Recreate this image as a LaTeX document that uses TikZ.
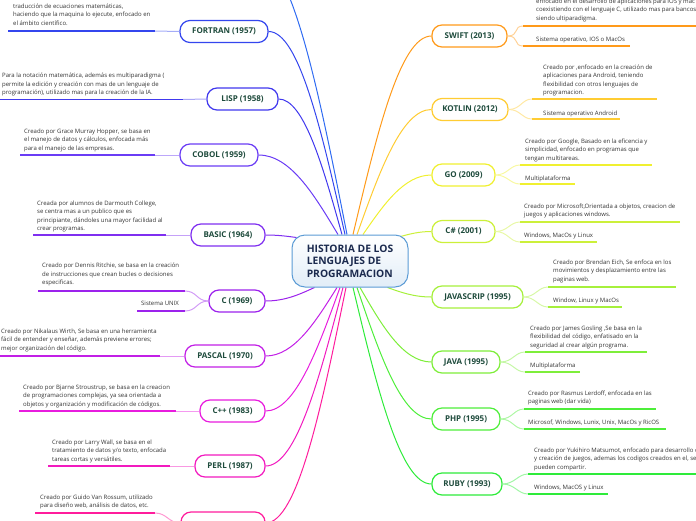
\documentclass[tikz,border=0pt]{standalone}
\usepackage{fontspec}
\setmainfont{Open Sans}
\usetikzlibrary{calc,backgrounds}
\definecolor{ctop}{HTML}{2F6BF2}
\definecolor{cfortran}{HTML}{3446EE}
\definecolor{clisp}{HTML}{4038EE}
\definecolor{ccobol}{HTML}{6A3CF5}
\definecolor{cbasic}{HTML}{7F2FF0}
\definecolor{cc}{HTML}{9C22EC}
\definecolor{cpascal}{HTML}{C21FE6}
\definecolor{ccpp}{HTML}{E81CDE}
\definecolor{cperl}{HTML}{F21ABF}
\definecolor{cpy}{HTML}{FF1C9C}
\definecolor{cswift}{HTML}{FF9A1A}
\definecolor{ckotlin}{HTML}{FFCC33}
\definecolor{cgo}{HTML}{F0F030}
\definecolor{ccs}{HTML}{CCF03A}
\definecolor{cjs}{HTML}{A6F03C}
\definecolor{cjava}{HTML}{7EEE3A}
\definecolor{cphp}{HTML}{4EEE3A}
\definecolor{cruby}{HTML}{2EEB3A}
\definecolor{ctrborder}{HTML}{5B9BD5}
\definecolor{ctrtxt}{HTML}{1B2A4E}
\definecolor{topictxt}{HTML}{1E4B3C}
\definecolor{desctxt}{HTML}{333333}
\newcommand\descfont{\fontsize{6.0}{8.6}\selectfont}
\newcommand\dlines[1]{\vtop{\baselineskip=8.6pt\halign{##\hfil\cr#1\crcr}}}
\newcommand\branch[3]{\draw[branchline=#1] let \p1=(#2), \p2=(#3) in (\p1) .. controls ({\x1+0.3*(\x2-\x1)},{\y1+0.5*(\y2-\y1)}) and ({\x2-0.4*(\x2-\x1)},{\y2}) .. (\p2);}
\tikzset{
  topic/.style={draw=#1, line width=1.2pt, rounded corners=10pt, minimum height=22pt, fill=white, text=topictxt, font=\fontsize{8}{9.6}\selectfont\bfseries, inner sep=0pt},
  ul/.style={draw=#1, line width=1.4pt},
  twig/.style={draw=#1!45!white, line width=1pt},
  branchline/.style={draw=#1, line width=1pt},
  desc/.style={font=\descfont, text=desctxt, inner sep=0pt, anchor=base west},
}
\begin{document}
\begin{tikzpicture}[x=1pt,y=-1pt]
\useasboundingbox (0,0) rectangle (696,520);
\clip (0,0) rectangle (696,520);
% center
\node[draw=ctrborder, line width=1pt, rounded corners=13pt, top color=white, bottom color=ctrborder!18!white, minimum width=116pt, minimum height=52pt, align=left, text=ctrtxt, font=\fontsize{10.3}{12.6}\selectfont\bfseries] (ctr) at (350,261) {HISTORIA DE LOS\\LENGUAJES DE\\PROGRAMACION};
% topics left
\node[topic=cfortran, minimum width=88pt] (fortran) at (224,31.5) {FORTRAN (1957)};
\node[topic=clisp, minimum width=71pt] (lisp) at (242.5,99) {LISP (1958)};
\node[topic=ccobol, minimum width=78pt] (cobol) at (219,155) {COBOL (1959)};
\node[topic=cbasic, minimum width=74pt] (basic) at (228,235) {BASIC (1964)};
\node[topic=cc, minimum width=56pt] (c) at (237,301) {C (1969)};
\node[topic=cpascal, minimum width=80pt] (pascal) at (225,356) {PASCAL (1970)};
\node[topic=ccpp, minimum width=65pt] (cpp) at (232.5,411) {C++ (1983)};
\node[topic=cperl, minimum width=70pt] (perl) at (230,466) {PERL (1987)};
\node[topic=cpy, minimum width=84pt] (py) at (223,523) {};
\coordinate (topn) at (255,-45);
% topics right
\node[topic=cswift, minimum width=75pt] (swift) at (469.5,36) {SWIFT (2013)};
\node[topic=ckotlin, minimum width=76pt] (kotlin) at (470,109.5) {KOTLIN (2012)};
\node[topic=cgo, minimum width=63pt] (go) at (463.5,175) {GO (2009)};
\node[topic=ccs, minimum width=63pt] (cs) at (463.5,231.5) {C\# (2001)};
\node[topic=cjs, minimum width=91pt] (js) at (477.5,297) {JAVASCRIP (1995)};
\node[topic=cjava, minimum width=68pt] (java) at (466,362) {JAVA (1995)};
\node[topic=cphp, minimum width=68pt] (php) at (466,419) {PHP (1995)};
\node[topic=cruby, minimum width=70pt] (ruby) at (467,484) {RUBY (1993)};
% start points on the center node
\coordinate (s-top) at ($(ctr.north)+(-3,0)$);
\coordinate (s-fortran) at ($(ctr.north)+(-5,0)$);
\coordinate (s-lisp) at ($(ctr.north)+(-8,0)$);
\coordinate (s-cobol) at ($(ctr.north)+(-12,0)$);
\coordinate (s-basic) at ($(ctr.north west)+(5,3)$);
\coordinate (s-c) at ($(ctr.south west)+(23,0)$);
\coordinate (s-pascal) at ($(ctr.south)+(-13,0)$);
\coordinate (s-cpp) at ($(ctr.south)+(-10,0)$);
\coordinate (s-perl) at ($(ctr.south)+(-7,0)$);
\coordinate (s-py) at ($(ctr.south)+(-4,0)$);
\coordinate (s-swift) at ($(ctr.north)+(3,0)$);
\coordinate (s-kotlin) at ($(ctr.north)+(7,0)$);
\coordinate (s-go) at ($(ctr.north)+(13,0)$);
\coordinate (s-cs) at ($(ctr.north east)+(-8,2)$);
\coordinate (s-js) at ($(ctr.south east)+(-21,0)$);
\coordinate (s-java) at ($(ctr.south)+(10,0)$);
\coordinate (s-php) at ($(ctr.south)+(7,0)$);
\coordinate (s-ruby) at ($(ctr.south)+(3,0)$);
\begin{scope}[on background layer]
\clip (0,0) rectangle (696,520);
\branch{ctop}{s-top}{topn}
\branch{cfortran}{s-fortran}{fortran.east}
\branch{clisp}{s-lisp}{lisp.east}
\branch{ccobol}{s-cobol}{cobol.east}
\branch{cbasic}{s-basic}{basic.east}
\branch{cc}{s-c}{c.east}
\branch{cpascal}{s-pascal}{pascal.east}
\branch{ccpp}{s-cpp}{cpp.east}
\branch{cperl}{s-perl}{perl.east}
\branch{cpy}{s-py}{py.east}
\branch{cswift}{s-swift}{swift.west}
\branch{ckotlin}{s-kotlin}{kotlin.west}
\branch{cgo}{s-go}{go.west}
\branch{ccs}{s-cs}{cs.west}
\branch{cjs}{s-js}{js.west}
\branch{cjava}{s-java}{java.west}
\branch{cphp}{s-php}{php.west}
\branch{cruby}{s-ruby}{ruby.west}
\end{scope}
% ---- left descriptions
\node[desc] (fortran-d) at (13,8) {\dlines{traducción de ecuaciones matemáticas,\cr haciendo que la maquina lo ejecute, enfocado en\cr el ámbito científico.}};
\coordinate (fortran-a1) at (8,31); \coordinate (fortran-a2) at (155,31);
\node[desc] (lisp-d) at (2,77.5) {\dlines{Para la notación matemática, además es multiparadigma (\cr permite la edición y creación con mas de un lenguaje de\cr programación), utilizado mas para la creación de la IA.}};
\coordinate (lisp-a1) at (0,99.5); \coordinate (lisp-a2) at (183,99.5);
\node[desc] (cobol-d) at (24,133) {\dlines{Creado por Grace Murray Hopper, se basa en\cr el manejo de datos y cálculos, enfocada más\cr para el manejo de las empresas.}};
\coordinate (cobol-a1) at (20,155); \coordinate (cobol-a2) at (155,155);
\node[desc] (basic-d) at (37,205) {\dlines{Creada por alumnos de Darmouth College,\cr se centra mas a un publico que es\cr principiante, dándoles una mayor facilidad al\cr crear programas.}};
\coordinate (basic-a1) at (33,235); \coordinate (basic-a2) at (166,235);
\node[desc] (c-d) at (42,267.5) {\dlines{Creado por Dennis Ritchie, se basa en la creación\cr de instrucciones que crean bucles o decisiones\cr especificas.}};
\coordinate (c-a1) at (38,291); \coordinate (c-a2) at (185,291);
\node[desc] (c-e) at (141,305) {Sistema UNIX};
\coordinate (c-b1) at (137,311); \coordinate (c-b2) at (185,311);
\node[desc] (pascal-d) at (1,333) {\dlines{Creado por Nikalaus Wirth, Se basa en una herramienta\cr fácil de entender y enseñar, además previene errores;\cr mejor organización del código.}};
\coordinate (pascal-a1) at (0,356); \coordinate (pascal-a2) at (160,356);
\node[desc] (cpp-d) at (23,389) {\dlines{Creado por Bjarne Stroustrup, se basa en la creacion\cr de programaciones complejas, ya sea orientada a\cr objetos y organización y modificación de códigos.}};
\coordinate (cpp-a1) at (19,411); \coordinate (cpp-a2) at (176,411);
\node[desc] (perl-d) at (52,444) {\dlines{Creado por Larry Wall, se basa en el\cr tratamiento de datos y/o texto, enfocada\cr tareas cortas y versátiles.}};
\coordinate (perl-a1) at (48,466); \coordinate (perl-a2) at (170,466);
\node[desc] (py-d) at (40,499) {\dlines{Creado por Guido Van Rossum, utilizado\cr para diseño web, análisis de datos, etc.}};
\coordinate (py-a1) at (35,513); \coordinate (py-a2) at (155,513);
% ---- right descriptions
\node[desc] (swift-d) at (536,3) {\dlines{enfocado en el desarrollo de aplicaciones para IOS y mac\cr coexistiendo con el lenguaje C, utilizado mas para bancos\cr siendo ultiparadigma.}};
\coordinate (swift-a1) at (523,26); \coordinate (swift-a2) at (700,26);
\node[desc] (swift-e) at (536,41) {Sistema operativo, IOS o MacOs};
\coordinate (swift-b1) at (523,46); \coordinate (swift-b2) at (630,46);
\node[desc] (kotlin-d) at (543,69) {\dlines{Creado por ,enfocado en la creación de\cr aplicaciones para Android, teniendo\cr flexibilidad con otros lenguajes de\cr programacion.}};
\coordinate (kotlin-a1) at (532,99); \coordinate (kotlin-a2) at (657,99);
\node[desc] (kotlin-e) at (543,115) {Sistema operativo Android};
\coordinate (kotlin-b1) at (532,119); \coordinate (kotlin-b2) at (620,119);
\node[desc] (go-d) at (525,143) {\dlines{Creado por Google, Basado en la eficencia y\cr simplicidad, enfocado en programas que\cr tengan multitareas.}};
\coordinate (go-a1) at (520,165); \coordinate (go-a2) at (652,165);
\node[desc] (go-e) at (525,180) {Multiplataforma};
\coordinate (go-b1) at (520,184); \coordinate (go-b2) at (575,184);
\node[desc] (cs-d) at (524,208) {\dlines{Creado por Microsoft,Orientada a objetos, creacion de\cr juegos y aplicaciones windows.}};
\coordinate (cs-a1) at (520,222); \coordinate (cs-a2) at (680,222);
\node[desc] (cs-e) at (524,237) {Windows, MacOs y Linux};
\coordinate (cs-b1) at (520,242); \coordinate (cs-b2) at (597,242);
\node[desc] (js-d) at (553,264) {\dlines{Creado por Brendan Eich, Se enfoca en los\cr movimientos y desplazamiento entre las\cr paginas web.}};
\coordinate (js-a1) at (548,287); \coordinate (js-a2) at (676,287);
\node[desc] (js-e) at (553,302) {Window, Linux y MacOs};
\coordinate (js-b1) at (548,307); \coordinate (js-b2) at (622,307);
\node[desc] (java-d) at (530,330) {\dlines{Creado por James Gosling ,Se basa en la\cr flexibilidad del código, enfatisado en la\cr seguridad al crear algún programa.}};
\coordinate (java-a1) at (525,352); \coordinate (java-a2) at (647,352);
\node[desc] (java-e) at (530,367) {Multiplataforma};
\coordinate (java-b1) at (525,372); \coordinate (java-b2) at (580,372);
\node[desc] (php-d) at (528,395) {\dlines{Creado por Rasmus Lerdoff, enfocada en las\cr paginas web (dar vida)}};
\coordinate (php-a1) at (524,409); \coordinate (php-a2) at (656,409);
\node[desc] (php-e) at (528,424) {Microsof, Windows, Lunix, Unix, MacOs y RicOS};
\coordinate (php-b1) at (524,429); \coordinate (php-b2) at (666,429);
\node[desc] (ruby-d) at (534,452) {\dlines{Creado por Yukihiro Matsumot, enfocado para desarrollo d\cr y creación de juegos, ademas los codigos creados en el, se\cr pueden compartir.}};
\coordinate (ruby-a1) at (528,474); \coordinate (ruby-a2) at (700,474);
\node[desc] (ruby-e) at (534,489) {Windows, MacOS y Linux};
\coordinate (ruby-b1) at (528,494); \coordinate (ruby-b2) at (608,494);
% ---- underlines and twigs, left
\foreach \n/\col in {fortran/cfortran, lisp/clisp, cobol/ccobol, basic/cbasic, c/cc, pascal/cpascal, cpp/ccpp, perl/cperl, py/cpy}{
  \draw[twig=\col] (\n.west) .. controls +(-12,0) and +(12,0) .. (\n-a2);
  \draw[ul=\col] (\n-a1) -- (\n-a2);
}
\draw[twig=cc] (c.west) .. controls +(-12,0) and +(12,0) .. (c-b2);
\draw[ul=cc] (c-b1) -- (c-b2);
% ---- underlines and twigs, right
\foreach \n/\col in {swift/cswift, kotlin/ckotlin, go/cgo, cs/ccs, js/cjs, java/cjava, php/cphp, ruby/cruby}{
  \draw[twig=\col] (\n.east) .. controls +(12,0) and +(-10,0) .. (\n-a1);
  \draw[twig=\col] (\n.east) .. controls +(12,0) and +(-10,0) .. (\n-b1);
  \draw[ul=\col] (\n-a1) -- (\n-a2);
  \draw[ul=\col] (\n-b1) -- (\n-b2);
}
\end{tikzpicture}
\end{document}
